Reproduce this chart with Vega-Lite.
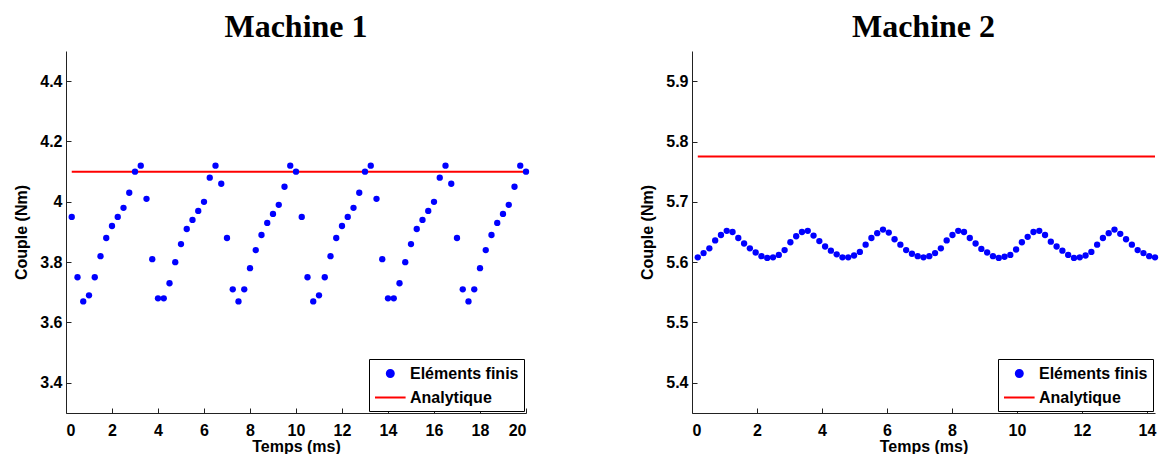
{
  "$schema": "https://vega.github.io/schema/vega-lite/v6.json",
  "background": "white",
  "padding": {"left": 13, "top": 11, "right": 2, "bottom": 0},
  "spacing": 109,
  "config": {
    "view": {"stroke": null},
    "axis": {"grid": false, "domainColor": "#222", "domainWidth": 1, "tickColor": "#222", "tickSize": -5, "tickWidth": 1,
      "labelFont": "Liberation Sans", "labelFontSize": 16, "labelFontWeight": "bold", "labelColor": "#000", "labelPadding": 9,
      "titleFont": "Liberation Sans", "titleFontSize": 16, "titleFontWeight": "bold", "titleColor": "#000"},
    "axisY": {"titlePadding": 10},
    "axisX": {"titlePadding": 0, "labelPadding": 14},
    "title": {"font": "Liberation Serif", "fontSize": 32, "fontWeight": "bold", "color": "#000", "anchor": "middle", "offset": 7, "frame": "group"},
    "legend": {"orient": "bottom-right", "offset": 2, "strokeColor": "#000", "fillColor": "#fff", "padding": 5,
      "labelFont": "Liberation Sans", "labelFontSize": 16, "labelFontWeight": "bold", "labelColor": "#000",
      "symbolSize": 289, "rowPadding": 6, "labelOffset": 17}
  },
  "resolve": {"scale": {"color": "independent"}, "legend": {"color": "independent"}},
  "datasets": {
    "m1": [
      {"t":0.25,"c":3.95},{"t":0.5,"c":3.75},{"t":0.75,"c":3.67},{"t":1.0,"c":3.69},{"t":1.25,"c":3.75},{"t":1.5,"c":3.82},{"t":1.75,"c":3.88},{"t":2.0,"c":3.92},{"t":2.25,"c":3.95},{"t":2.5,"c":3.98},
      {"t":2.75,"c":4.03},{"t":3.0,"c":4.10},{"t":3.25,"c":4.12},{"t":3.5,"c":4.01},{"t":3.75,"c":3.81},{"t":4.0,"c":3.68},{"t":4.25,"c":3.68},{"t":4.5,"c":3.73},{"t":4.75,"c":3.80},{"t":5.0,"c":3.86},
      {"t":5.25,"c":3.91},{"t":5.5,"c":3.94},{"t":5.75,"c":3.97},{"t":6.0,"c":4.00},{"t":6.25,"c":4.08},{"t":6.5,"c":4.12},{"t":6.75,"c":4.06},{"t":7.0,"c":3.88},{"t":7.25,"c":3.71},{"t":7.5,"c":3.67},
      {"t":7.75,"c":3.71},{"t":8.0,"c":3.78},{"t":8.25,"c":3.84},{"t":8.5,"c":3.89},{"t":8.75,"c":3.93},{"t":9.0,"c":3.96},{"t":9.25,"c":3.99},{"t":9.5,"c":4.05},{"t":9.75,"c":4.12},{"t":10.0,"c":4.10},
      {"t":10.25,"c":3.95},{"t":10.5,"c":3.75},{"t":10.75,"c":3.67},{"t":11.0,"c":3.69},{"t":11.25,"c":3.75},{"t":11.5,"c":3.82},{"t":11.75,"c":3.88},{"t":12.0,"c":3.92},{"t":12.25,"c":3.95},{"t":12.5,"c":3.98},
      {"t":12.75,"c":4.03},{"t":13.0,"c":4.10},{"t":13.25,"c":4.12},{"t":13.5,"c":4.01},{"t":13.75,"c":3.81},{"t":14.0,"c":3.68},{"t":14.25,"c":3.68},{"t":14.5,"c":3.73},{"t":14.75,"c":3.80},{"t":15.0,"c":3.86},
      {"t":15.25,"c":3.91},{"t":15.5,"c":3.94},{"t":15.75,"c":3.97},{"t":16.0,"c":4.00},{"t":16.25,"c":4.08},{"t":16.5,"c":4.12},{"t":16.75,"c":4.06},{"t":17.0,"c":3.88},{"t":17.25,"c":3.71},{"t":17.5,"c":3.67},
      {"t":17.75,"c":3.71},{"t":18.0,"c":3.78},{"t":18.25,"c":3.84},{"t":18.5,"c":3.89},{"t":18.75,"c":3.93},{"t":19.0,"c":3.96},{"t":19.25,"c":3.99},{"t":19.5,"c":4.05},{"t":19.75,"c":4.12},{"t":20.0,"c":4.10}
    ],
    "a1": [{"t":0.25,"c":4.1},{"t":20.0,"c":4.1}],
    "m2": [
      {"t":0.178,"c":5.608},{"t":0.356,"c":5.615},{"t":0.534,"c":5.623},{"t":0.713,"c":5.636},{"t":0.891,"c":5.645},{"t":1.069,"c":5.652},{"t":1.247,"c":5.650},{"t":1.425,"c":5.640},{"t":1.603,"c":5.631},{"t":1.781,"c":5.623},
      {"t":1.959,"c":5.616},{"t":2.138,"c":5.610},{"t":2.316,"c":5.607},{"t":2.494,"c":5.608},{"t":2.672,"c":5.612},{"t":2.85,"c":5.620},{"t":3.028,"c":5.633},{"t":3.206,"c":5.643},{"t":3.384,"c":5.650},{"t":3.563,"c":5.652},
      {"t":3.741,"c":5.644},{"t":3.919,"c":5.635},{"t":4.097,"c":5.626},{"t":4.275,"c":5.619},{"t":4.453,"c":5.613},{"t":4.631,"c":5.608},{"t":4.809,"c":5.608},{"t":4.988,"c":5.611},{"t":5.166,"c":5.617},{"t":5.344,"c":5.629},
      {"t":5.522,"c":5.640},{"t":5.7,"c":5.648},{"t":5.878,"c":5.654},{"t":6.056,"c":5.649},{"t":6.234,"c":5.638},{"t":6.413,"c":5.629},{"t":6.591,"c":5.620},{"t":6.769,"c":5.614},{"t":6.947,"c":5.610},{"t":7.125,"c":5.608},
      {"t":7.303,"c":5.610},{"t":7.481,"c":5.615},{"t":7.659,"c":5.623},{"t":7.838,"c":5.636},{"t":8.016,"c":5.645},{"t":8.194,"c":5.652},{"t":8.372,"c":5.650},{"t":8.55,"c":5.640},{"t":8.728,"c":5.631},{"t":8.906,"c":5.622},
      {"t":9.084,"c":5.616},{"t":9.263,"c":5.610},{"t":9.441,"c":5.607},{"t":9.619,"c":5.609},{"t":9.797,"c":5.612},{"t":9.975,"c":5.621},{"t":10.153,"c":5.633},{"t":10.331,"c":5.642},{"t":10.509,"c":5.650},{"t":10.688,"c":5.652},
      {"t":10.866,"c":5.645},{"t":11.044,"c":5.634},{"t":11.222,"c":5.626},{"t":11.4,"c":5.619},{"t":11.578,"c":5.612},{"t":11.756,"c":5.607},{"t":11.934,"c":5.608},{"t":12.113,"c":5.611},{"t":12.291,"c":5.617},{"t":12.469,"c":5.629},
      {"t":12.647,"c":5.640},{"t":12.825,"c":5.648},{"t":13.003,"c":5.654},{"t":13.181,"c":5.647},{"t":13.359,"c":5.638},{"t":13.538,"c":5.629},{"t":13.716,"c":5.620},{"t":13.894,"c":5.615},{"t":14.072,"c":5.610},{"t":14.25,"c":5.608}
    ],
    "a2": [{"t":0.178,"c":5.775},{"t":14.25,"c":5.775}]
  },
  "hconcat": [
    {
      "title": {"text": "Machine 1"},
      "width": 460,
      "height": 362,
      "layer": [
        {
          "data": {"name": "a1"},
          "mark": {"type": "line", "strokeWidth": 2},
          "encoding": {
            "x": {"field": "t", "type": "quantitative", "title": "Temps (ms)", "scale": {"domain": [0, 20], "nice": false, "zero": false}, "axis": {"values": [0,2,4,6,8,10,12,14,16,18,20]}},
            "y": {"field": "c", "type": "quantitative", "title": "Couple (Nm)", "scale": {"domain": [3.3, 4.5], "nice": false, "zero": false}, "axis": {"values": [3.4,3.6,3.8,4.0,4.2,4.4], "format": "~f"}},
            "color": {"datum": "Analytique"}
          }
        },
        {
          "data": {"name": "m1"},
          "mark": {"type": "point", "filled": true, "size": 40, "opacity": 1},
          "encoding": {
            "x": {"field": "t", "type": "quantitative"},
            "y": {"field": "c", "type": "quantitative"},
            "color": {"datum": "Eléments finis", "scale": {"domain": ["Eléments finis", "Analytique"], "range": ["#0000ff", "#ff0000"]},
              "legend": {"title": null,
                "symbolType": {"expr": "datum.value === 'Analytique' ? 'M -1 0 H 2.6' : 'M 0.39 0 A 0.41 0.41 0 1 0 1.21 0 A 0.41 0.41 0 1 0 0.39 0 Z'"},
                "symbolStrokeColor": {"expr": "datum.value === 'Analytique' ? '#ff0000' : 'transparent'"},
                "symbolFillColor": {"expr": "datum.value === 'Analytique' ? 'transparent' : '#0000ff'"},
                "symbolStrokeWidth": 2,
                "symbolOpacity": 1}}
          }
        }
      ]
    },
    {
      "title": {"text": "Machine 2"},
      "width": 463,
      "height": 362,
      "layer": [
        {
          "data": {"name": "a2"},
          "mark": {"type": "line", "strokeWidth": 2},
          "encoding": {
            "x": {"field": "t", "type": "quantitative", "title": "Temps (ms)", "scale": {"domain": [0, 14.25], "nice": false, "zero": false}, "axis": {"values": [0,2,4,6,8,10,12,14]}},
            "y": {"field": "c", "type": "quantitative", "title": "Couple (Nm)", "scale": {"domain": [5.35, 5.95], "nice": false, "zero": false}, "axis": {"values": [5.4,5.5,5.6,5.7,5.8,5.9], "format": "~f"}},
            "color": {"datum": "Analytique"}
          }
        },
        {
          "data": {"name": "m2"},
          "mark": {"type": "point", "filled": true, "size": 40, "opacity": 1},
          "encoding": {
            "x": {"field": "t", "type": "quantitative"},
            "y": {"field": "c", "type": "quantitative"},
            "color": {"datum": "Eléments finis", "scale": {"domain": ["Eléments finis", "Analytique"], "range": ["#0000ff", "#ff0000"]},
              "legend": {"title": null,
                "symbolType": {"expr": "datum.value === 'Analytique' ? 'M -1 0 H 2.6' : 'M 0.39 0 A 0.41 0.41 0 1 0 1.21 0 A 0.41 0.41 0 1 0 0.39 0 Z'"},
                "symbolStrokeColor": {"expr": "datum.value === 'Analytique' ? '#ff0000' : 'transparent'"},
                "symbolFillColor": {"expr": "datum.value === 'Analytique' ? 'transparent' : '#0000ff'"},
                "symbolStrokeWidth": 2,
                "symbolOpacity": 1}}
          }
        }
      ]
    }
  ]
}
